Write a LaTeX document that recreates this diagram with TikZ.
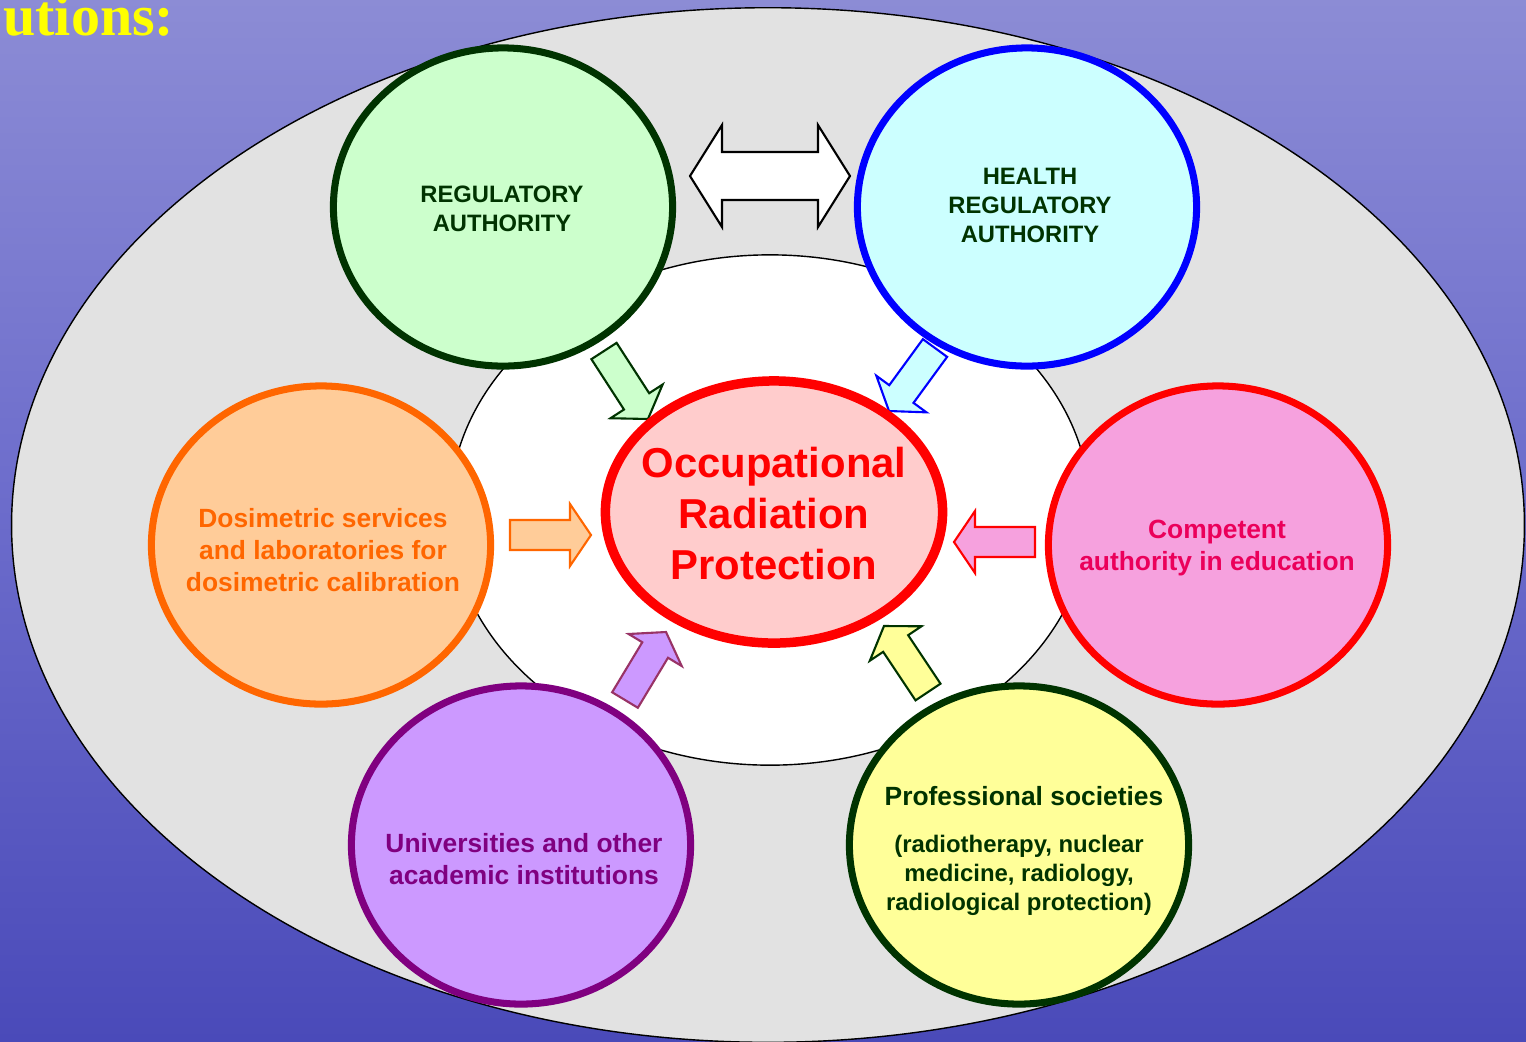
\documentclass[tikz,border=0pt]{standalone}
\usepackage{fontspec}
\setmainfont{Liberation Sans}
\newfontfamily\titlefont{Liberation Serif}
\usetikzlibrary{shapes.geometric}
\usetikzlibrary{calc}

\definecolor{dkgreen}{RGB}{0,51,0}
\definecolor{ltgreen}{RGB}{204,255,204}
\definecolor{ltcyan}{RGB}{204,255,255}
\definecolor{ltorange}{RGB}{255,204,153}
\definecolor{dorange}{RGB}{255,102,0}
\definecolor{ltpink}{RGB}{246,161,222}
\definecolor{rosered}{RGB}{235,0,90}
\definecolor{ltpurple}{RGB}{204,153,255}
\definecolor{dpurple}{RGB}{128,0,128}
\definecolor{mauve}{RGB}{153,51,102}
\definecolor{ltyellow}{RGB}{255,255,153}
\definecolor{ltred}{RGB}{255,204,204}
\definecolor{panel}{RGB}{226,226,226}
\definecolor{titleyellow}{RGB}{255,255,0}

\pgfdeclareverticalshading{sea}{100bp}{rgb(0bp)=(0.21,0.21,0.64); rgb(23bp)=(0.28,0.28,0.72); rgb(52bp)=(0.43,0.43,0.80); rgb(85bp)=(0.60,0.60,0.85); rgb(95bp)=(0.74,0.74,0.90); rgb(100bp)=(0.50,0.50,0.80)}

\tikzset{
  org/.style={ellipse,line width=2pt,minimum width=3.39cm,minimum height=3.18cm,inner sep=0pt},
  orgtext/.style={align=center,inner sep=0pt,font=\bfseries\fontsize{7.5}{9.1}\selectfont},
  captext/.style={align=center,inner sep=0pt,font=\bfseries\fontsize{6.75}{8.25}\selectfont},
  blk/.style={line width=0.6pt,line join=miter}
}

% block arrow: style, tail, tip
\newcommand{\blockarrow}[3]{%
  \path ($(#3)!0.21cm!(#2)$) coordinate (ba-b);
  \draw[blk,#1] ($(#2)!0.15cm!90:(#3)$) -- ($(ba-b)!0.15cm!90:(#3)$) -- ($(ba-b)!0.31cm!90:(#3)$) -- (#3)
    -- ($(ba-b)!0.31cm!-90:(#3)$) -- ($(ba-b)!0.15cm!-90:(#3)$) -- ($(#2)!0.15cm!-90:(#3)$) -- cycle;
}
% double block arrow: style, left tip, right tip
\newcommand{\dblarrow}[3]{%
  \path ($(#2)!0.32cm!(#3)$) coordinate (da-a) ($(#3)!0.32cm!(#2)$) coordinate (da-b);
  \draw[blk,#1] (#2) -- ($(da-a)!0.51cm!90:(#3)$) -- ($(da-a)!0.24cm!90:(#3)$) -- ($(da-b)!0.24cm!-90:(#2)$)
    -- ($(da-b)!0.51cm!-90:(#2)$) -- (#3) -- ($(da-b)!0.51cm!90:(#2)$) -- ($(da-b)!0.24cm!90:(#2)$)
    -- ($(da-a)!0.24cm!-90:(#3)$) -- ($(da-a)!0.51cm!-90:(#3)$) -- cycle;
}

\begin{document}
\begin{tikzpicture}[x=0.01cm,y=-0.01cm]
\useasboundingbox (0,0) rectangle (1526,1041);
\clip (0,0) rectangle (1526,1041);
\shade[shading=sea] (0,0) rectangle (1526,1041);
\node[font=\titlefont\bfseries\fontsize{16.5}{18}\selectfont,text=titleyellow,inner sep=0pt,anchor=base east] (title) at (175,35) {utions:};

\draw[fill=panel,line width=0.4pt] (768,525) ellipse [x radius=7.56cm,y radius=5.17cm];
\draw[fill=white,line width=0.4pt] (770,510) ellipse [x radius=3.2cm,y radius=2.55cm];

\node[org,draw=dkgreen,fill=ltgreen] (reg) at (503,207) {};
\node[org,draw=blue,fill=ltcyan] (health) at (1027,207) {};
\node[org,draw=dorange,fill=ltorange] (dosi) at (321,545) {};
\node[org,draw=red,fill=ltpink] (comp) at (1218,545) {};
\node[org,draw=dpurple,fill=ltpurple] (univ) at (521,845) {};
\node[org,draw=dkgreen,fill=ltyellow] (prof) at (1019,845) {};

\coordinate (ga1) at (604,351); \coordinate (ga2) at (648,419);
\coordinate (ha1) at (935,348); \coordinate (ha2) at (889,411);
\coordinate (oa1) at (510,535); \coordinate (oa2) at (591,535);
\coordinate (pa1) at (1035,542); \coordinate (pa2) at (954,542);
\coordinate (ua1) at (625,700); \coordinate (ua2) at (666,632);
\coordinate (ya1) at (928,692); \coordinate (ya2) at (884,626);
\coordinate (da1) at (690,176); \coordinate (da2) at (850,176);

\blockarrow{fill=ltgreen,draw=dkgreen}{ga1}{ga2}
\blockarrow{fill=ltcyan,draw=blue}{ha1}{ha2}
\blockarrow{fill=ltorange,draw=dorange}{oa1}{oa2}
\blockarrow{fill=ltpink,draw=red}{pa1}{pa2}
\blockarrow{fill=ltpurple,draw=mauve}{ua1}{ua2}
\blockarrow{fill=ltyellow,draw=dkgreen}{ya1}{ya2}
\dblarrow{fill=white,draw=black}{da1}{da2}

\node[org,draw=red,fill=ltred,line width=2.7pt,minimum width=3.37cm,minimum height=2.62cm] (orp) at (774,512) {};

\node[captext,text=dkgreen] (reg-t) at (502,209) {REGULATORY\\AUTHORITY};
\node[captext,text=dkgreen] (health-t) at (1030,205) {HEALTH\\REGULATORY\\AUTHORITY};
\node[orgtext,text=dorange] (dosi-t) at (323,550) {Dosimetric services\\and laboratories for\\dosimetric calibration};
\node[orgtext,text=rosered] (comp-t) at (1217,548) {Competent\\authority in education};
\node[orgtext,text=dpurple] (univ-t) at (524,859) {Universities and other\\academic institutions};
\node[orgtext,text=dkgreen] (prof-t) at (1024,796) {Professional societies};
\node[orgtext,text=dkgreen,font=\bfseries\fontsize{6.8}{8.25}\selectfont] (prof-s) at (1019,875) {(radiotherapy, nuclear\\medicine, radiology,\\radiological protection)};
\node[align=center,inner sep=0pt,text=red,font=\bfseries\fontsize{11.9}{14.5}\selectfont] (orp-t) at (774,514) {Occupational\\Radiation\\Protection};
\end{tikzpicture}
\end{document}
